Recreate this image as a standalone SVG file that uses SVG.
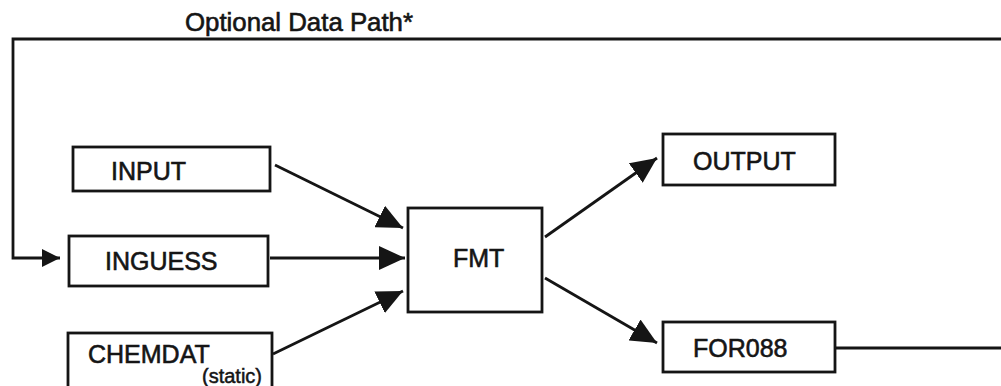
<svg xmlns="http://www.w3.org/2000/svg" width="1001" height="386" viewBox="0 0 1001 386">
<style>
.box{fill:#fff;stroke:#151515;stroke-width:2.8}
.lbl{font-family:"Liberation Sans",Arial,sans-serif;font-size:25px;fill:#151515;stroke:#151515;stroke-width:0.6}
.sm{font-family:"Liberation Sans",Arial,sans-serif;font-size:20px;fill:#151515;stroke:#151515;stroke-width:0.5}
.ln{fill:none;stroke:#151515;stroke-width:2.8}
</style>
<defs>
<marker id="ah" markerUnits="userSpaceOnUse" markerWidth="28" markerHeight="24" refX="26" refY="12" orient="auto">
<path d="M0,0 L26,12 L0,24 z" fill="#151515"/>
</marker>
<marker id="ahs" markerUnits="userSpaceOnUse" markerWidth="20" markerHeight="18" refX="18" refY="9" orient="auto">
<path d="M0,0 L18,9 L0,18 z" fill="#151515"/>
</marker>
</defs>
<rect width="1001" height="386" fill="#fff"/>
<text x="185" y="31" class="lbl" font-size="24" textLength="228" lengthAdjust="spacingAndGlyphs">Optional Data Path*</text>
<g id="connectors">
<path class="ln" d="M1001,39 H13 V258 H60" marker-end="url(#ahs)"/>
<line class="ln" x1="275" y1="165" x2="403" y2="228" marker-end="url(#ah)"/>
<line class="ln" x1="270" y1="258" x2="405" y2="258" marker-end="url(#ah)"/>
<line class="ln" x1="273" y1="354" x2="403" y2="291" marker-end="url(#ah)"/>
<line class="ln" x1="545" y1="237" x2="657" y2="158" marker-end="url(#ah)"/>
<line class="ln" x1="545" y1="278" x2="657" y2="343" marker-end="url(#ah)"/>
<line class="ln" x1="835" y1="348" x2="1001" y2="348"/>
</g>
<g id="input"><rect class="box" x="73" y="147" width="197" height="44"/><text class="lbl" x="111" y="180">INPUT</text></g>
<g id="inguess"><rect class="box" x="69" y="236" width="199" height="50"/><text class="lbl" x="105" y="270">INGUESS</text></g>
<g id="chemdat"><rect class="box" x="68" y="333" width="204" height="70"/><text class="lbl" x="88" y="363">CHEMDAT</text><text class="sm" x="202" y="383">(static)</text></g>
<g id="fmt"><rect class="box" x="408" y="208" width="134" height="104"/><text class="lbl" x="453" y="267">FMT</text></g>
<g id="output"><rect class="box" x="663" y="134" width="172" height="51"/><text class="lbl" x="693" y="170">OUTPUT</text></g>
<g id="for088"><rect class="box" x="663" y="322" width="172" height="50"/><text class="lbl" x="693" y="357">FOR088</text></g>
</svg>
